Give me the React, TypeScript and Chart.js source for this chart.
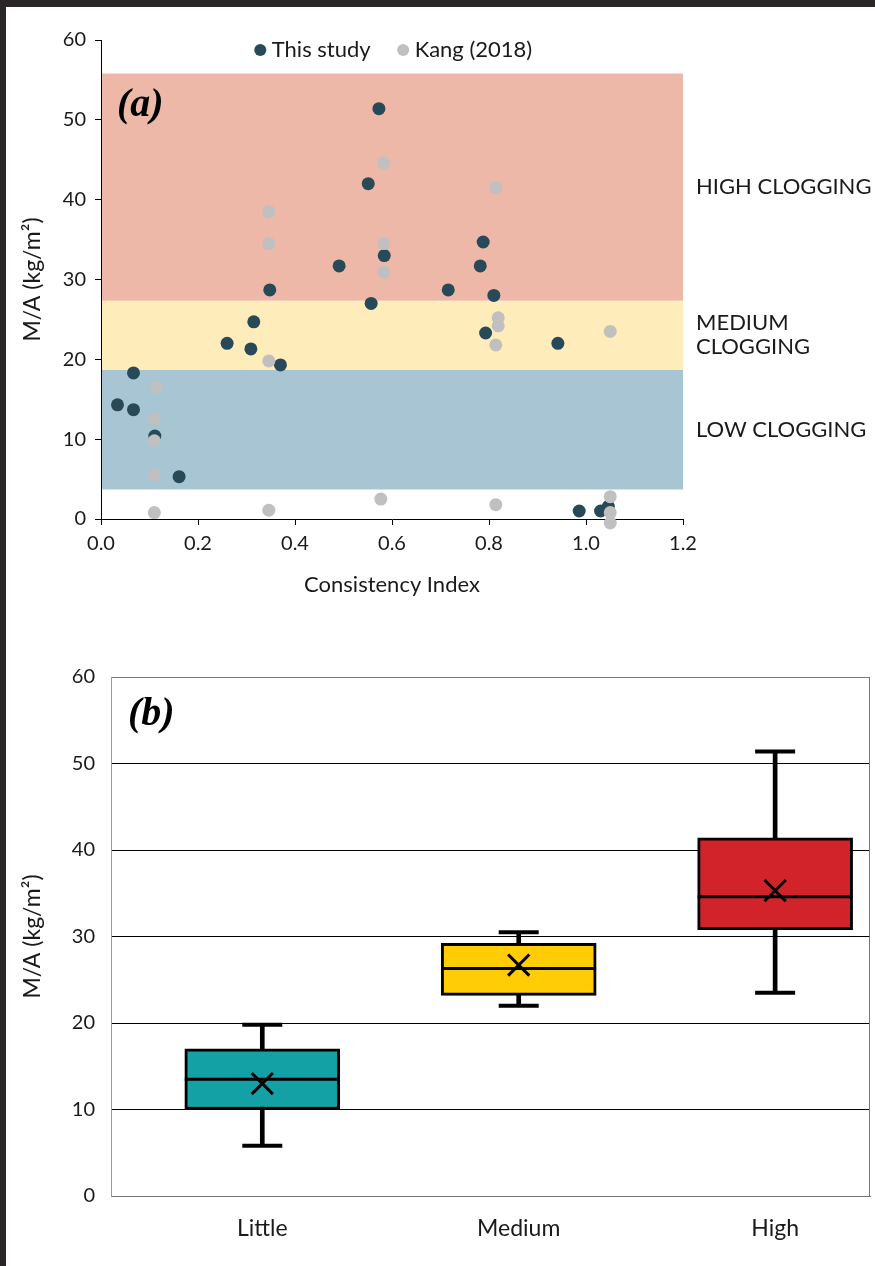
import React, { useEffect, useRef } from 'react';
import { Chart, registerables } from 'chart.js';

Chart.register(...registerables);

const FONT_FAMILY = 'Lato, "Open Sans", "DejaVu Sans", sans-serif';
const TEXT = '#1a1a1a';

// ---------- Panel (a) data ----------
const thisStudyX = [0.034, 0.067, 0.067, 0.111, 0.161, 0.26, 0.315, 0.309, 0.348, 0.37, 0.491, 0.551, 0.573, 0.584, 0.557, 0.716, 0.788, 0.782, 0.81, 0.793, 0.942, 0.986, 1.03, 1.046];
const thisStudyY = [14.3, 18.3, 13.7, 10.4, 5.3, 22.0, 24.7, 21.3, 28.7, 19.3, 31.7, 42.0, 51.4, 33.0, 27.0, 28.7, 34.7, 31.7, 28.0, 23.3, 22.0, 1.0, 1.0, 1.6];
const kangX = [0.115, 0.11, 0.11, 0.11, 0.11, 0.346, 0.346, 0.346, 0.346, 0.583, 0.583, 0.583, 0.577, 0.814, 0.819, 0.819, 0.814, 0.814, 1.05, 1.05, 1.05, 1.05];
const kangY = [16.5, 12.5, 9.8, 5.5, 0.8, 38.5, 34.5, 19.8, 1.1, 44.6, 34.5, 30.9, 2.5, 41.5, 25.2, 24.2, 21.8, 1.8, 23.5, 2.8, 0.8, -0.5];

const bandLabels = [['LOW CLOGGING'], ['MEDIUM', 'CLOGGING'], ['HIGH CLOGGING']];
const bandFrom = [3.7, 18.7, 27.35];
const bandTo = [18.7, 27.35, 55.8];
const bandColors = ['#A7C5D2', '#FFECBB', '#EDB8A7'];

const xTicksA = [0, 0.2, 0.4, 0.6, 0.8, 1.0, 1.2];
const yTicks = [0, 10, 20, 30, 40, 50, 60];

// ---------- Panel (b) data ----------
const categories = ['Little', 'Medium', 'High'];
const catPos = [1, 2, 3];
const whiskerLow = [5.8, 22.0, 23.5];
const q1 = [10.0, 23.2, 30.8];
const median = [13.5, 26.3, 34.6];
const q3 = [17.0, 29.2, 41.4];
const whiskerHigh = [19.8, 30.5, 51.4];
const means = [13.0, 26.7, 35.3];
const boxColors = ['#13A1A5', '#FFCC05', '#D2232A'];

const DARK = '#284a58';
const GRAY = '#c0c0c0';

const font = (size: number) => ({ family: FONT_FAMILY, size });

const bandPlugin = {
  id: 'bands',
  beforeDraw(chart: any) {
    const { ctx, chartArea, scales } = chart;
    const y = scales.y;
    ctx.save();
    bandFrom.forEach((from, i) => {
      const top = y.getPixelForValue(bandTo[i]);
      const bottom = y.getPixelForValue(from);
      ctx.fillStyle = bandColors[i];
      ctx.fillRect(chartArea.left, top, chartArea.right - chartArea.left, bottom - top);
    });
    ctx.restore();
  },
  afterDraw(chart: any) {
    const { ctx, chartArea, scales } = chart;
    const y = scales.y;
    ctx.save();
    ctx.fillStyle = TEXT;
    ctx.font = `22px ${FONT_FAMILY}`;
    ctx.textAlign = 'left';
    ctx.textBaseline = 'middle';
    bandFrom.forEach((from, i) => {
      const c = y.getPixelForValue((from + bandTo[i]) / 2);
      const lines = bandLabels[i];
      const lh = 24;
      lines.forEach((t, j) => {
        ctx.fillText(t, chartArea.right + 13, c + (j - (lines.length - 1) / 2) * lh);
      });
    });
    ctx.font = `italic bold 40px "Liberation Serif", "DejaVu Serif", serif`;
    ctx.textAlign = 'left';
    ctx.fillStyle = '#000';
    ctx.fillText('(a)', chartArea.left + 16, chartArea.top + 66);
    ctx.restore();
  },
};

const legendShift = {
  id: 'legendShift',
  afterInit(chart: any) {
    const l = chart.legend;
    if (l && !l._zeroWrapped) {
      const orig = l.fit.bind(l);
      l.fit = function () {
        orig();
        this.height = 0;
      };
      l._zeroWrapped = true;
    }
  },
  afterLayout(chart: any) {
    const l = chart.legend;
    const ca = chart.chartArea;
    if (!l) return;
    l.left = ca.left + 4;
    l.right = ca.right + 4;
    l.width = ca.right - ca.left;
    l.top = 0;
    l.bottom = 80;
    l.height = 80;
  },
};

const framePlugin = {
  id: 'frame',
  beforeDatasetsDraw(chart: any) {
    const { ctx, chartArea } = chart;
    ctx.save();
    ctx.strokeStyle = '#777';
    ctx.lineWidth = 1;
    ctx.beginPath();
    ctx.moveTo(Math.round(chartArea.right) - 0.5, chartArea.top);
    ctx.lineTo(Math.round(chartArea.right) - 0.5, chartArea.bottom);
    ctx.stroke();
    ctx.restore();
  },
  afterDraw(chart: any) {
    const { ctx, chartArea } = chart;
    ctx.save();
    ctx.font = `italic bold 40px "Liberation Serif", "DejaVu Serif", serif`;
    ctx.fillStyle = '#000';
    ctx.textBaseline = 'alphabetic';
    ctx.fillText('(b)', chartArea.left + 17, chartArea.top + 48);
    ctx.restore();
  },
};

export default function App() {
  const refA = useRef<HTMLCanvasElement>(null);
  const refB = useRef<HTMLCanvasElement>(null);

  useEffect(() => {
    const chartA = new Chart(refA.current as HTMLCanvasElement, {
      type: 'scatter',
      data: {
        datasets: [
          {
            label: 'This study',
            data: thisStudyX.map((x, i) => ({ x, y: thisStudyY[i] })),
            backgroundColor: DARK,
            borderColor: DARK,
            borderWidth: 0,
            pointRadius: 6.5,
            pointHoverRadius: 6.5,
            order: 2,
            clip: false,
          },
          {
            label: 'Kang (2018)',
            data: kangX.map((x, i) => ({ x, y: kangY[i] })),
            backgroundColor: GRAY,
            borderColor: GRAY,
            borderWidth: 0,
            pointRadius: 6.5,
            pointHoverRadius: 6.5,
            order: 1,
            clip: false,
          },
        ],
      } as any,
      options: {
        responsive: false,
        animation: false,
        events: [],
        layout: { autoPadding: false, padding: { left: 0, top: 33, right: 192, bottom: 29 } },
        scales: {
          x: {
            type: 'linear',
            min: 0,
            max: 1.2,
            afterBuildTicks: (s: any) => {
              s.ticks = xTicksA.map((v) => ({ value: v }));
            },
            ticks: {
              callback: (v: any) => Number(v).toFixed(1),
              font: font(20),
              color: TEXT,
              padding: 7,
              maxRotation: 0,
            },
            grid: { display: true, drawOnChartArea: false, drawTicks: true, tickLength: 6, color: '#000' },
            border: { display: true, color: '#000', width: 1 },
            title: { display: true, text: 'Consistency Index', font: font(22), color: TEXT, padding: { top: 0, bottom: 3 } },
            afterFit: (s: any) => {
              s.height = 82;
              s.paddingLeft = 0;
              s.paddingRight = 0;
            },
          },
          y: {
            type: 'linear',
            min: 0,
            max: 60,
            afterBuildTicks: (s: any) => {
              s.ticks = yTicks.map((v) => ({ value: v }));
            },
            ticks: { font: font(20), color: TEXT, padding: 9 },
            grid: { display: true, drawOnChartArea: false, drawTicks: true, tickLength: 6, color: '#000' },
            border: { display: true, color: '#000', width: 1 },
            title: { display: true, text: 'M/A (kg/m²)', font: font(23), color: TEXT, padding: { top: 13, bottom: 0 } },
            afterFit: (s: any) => {
              s.width = 95;
              s.paddingTop = 0;
              s.paddingBottom = 0;
            },
          },
        },
        plugins: {
          legend: {
            position: 'top',
            align: 'center',
            labels: {
              usePointStyle: true,
              pointStyle: 'circle',
              boxWidth: 1,
              boxHeight: 8.5,
              padding: 32,
              font: font(22),
              color: TEXT,
              sort: (a: any, b: any) => a.datasetIndex - b.datasetIndex,
            },
          },
          tooltip: { enabled: false },
        },
      } as any,
      plugins: [bandPlugin, legendShift],
    });

    const chartB = new Chart(refB.current as HTMLCanvasElement, {
      type: 'bar',
      data: {
        datasets: [
          {
            type: 'bar',
            label: 'whisker',
            data: catPos.map((x, i) => ({ x, y: [whiskerLow[i], whiskerHigh[i]] })),
            backgroundColor: '#000',
            borderWidth: 0,
            barThickness: 4,
            grouped: false,
            order: 5,
          },
          {
            type: 'scatter',
            label: 'caps',
            data: [
              ...catPos.map((x, i) => ({ x, y: whiskerLow[i] })),
              ...catPos.map((x, i) => ({ x, y: whiskerHigh[i] })),
            ],
            pointStyle: 'line',
            pointRadius: 20,
            borderColor: '#000',
            borderWidth: 4,
            order: 4,
            clip: false,
          },
          {
            type: 'bar',
            label: 'box',
            data: catPos.map((x, i) => ({ x, y: [q1[i], q3[i]] })),
            backgroundColor: boxColors,
            borderColor: '#000',
            borderWidth: 3,
            borderSkipped: false,
            barThickness: 155,
            grouped: false,
            order: 3,
          },
          {
            type: 'scatter',
            label: 'median',
            data: catPos.map((x, i) => ({ x, y: median[i] })),
            pointStyle: 'line',
            pointRadius: 77.5,
            borderColor: '#000',
            borderWidth: 3,
            order: 2,
            clip: false,
          },
          {
            type: 'scatter',
            label: 'mean',
            data: catPos.map((x, i) => ({ x, y: means[i] })),
            pointStyle: 'crossRot',
            pointRadius: 15,
            borderColor: '#000',
            borderWidth: 3,
            order: 1,
            clip: false,
          },
        ],
      } as any,
      options: {
        responsive: false,
        animation: false,
        events: [],
        layout: { autoPadding: false, padding: { left: 0, top: 47, right: 5, bottom: 10 } },
        scales: {
          x: {
            type: 'linear',
            min: 0.41,
            max: 3.37,
            offset: false,
            afterBuildTicks: (s: any) => {
              s.ticks = catPos.map((v) => ({ value: v }));
            },
            ticks: {
              callback: (v: any) => categories[catPos.indexOf(Number(v))],
              font: font(23),
              color: TEXT,
              padding: 19,
              maxRotation: 0,
              autoSkip: false,
            },
            grid: { display: false, drawTicks: false },
            border: { display: true, color: '#777', width: 1 },
            afterFit: (s: any) => {
              s.height = 60;
              s.paddingLeft = 0;
              s.paddingRight = 0;
            },
          },
          y: {
            type: 'linear',
            min: 0,
            max: 60,
            afterBuildTicks: (s: any) => {
              s.ticks = yTicks.map((v) => ({ value: v }));
            },
            ticks: { font: font(20), color: TEXT, padding: 16 },
            grid: {
              display: true,
              drawTicks: false,
              color: (c: any) => (c.tick && (c.tick.value === 0 || c.tick.value === 60) ? '#777' : '#000'),
            },
            border: { display: true, color: '#999', width: 1 },
            title: { display: true, text: 'M/A (kg/m²)', font: font(23), color: TEXT, padding: { top: 13, bottom: 0 } },
            afterFit: (s: any) => {
              s.width = 105;
              s.paddingTop = 0;
              s.paddingBottom = 0;
            },
          },
        },
        plugins: {
          legend: { display: false },
          tooltip: { enabled: false },
        },
      } as any,
      plugins: [framePlugin],
    });

    return () => {
      chartA.destroy();
      chartB.destroy();
    };
  }, []);

  return (
    <div
      style={{
        position: 'fixed',
        left: 0,
        top: 0,
        width: 875,
        height: 1266,
        background: '#2a2526',
        overflow: 'hidden',
      }}
    >
      <div style={{ position: 'absolute', left: 6, top: 7, width: 869, height: 1259, background: '#fff' }} />
      <canvas ref={refA} width={869} height={623} style={{ position: 'absolute', left: 6, top: 7 }} />
      <canvas ref={refB} width={869} height={636} style={{ position: 'absolute', left: 6, top: 630 }} />
    </div>
  );
}
